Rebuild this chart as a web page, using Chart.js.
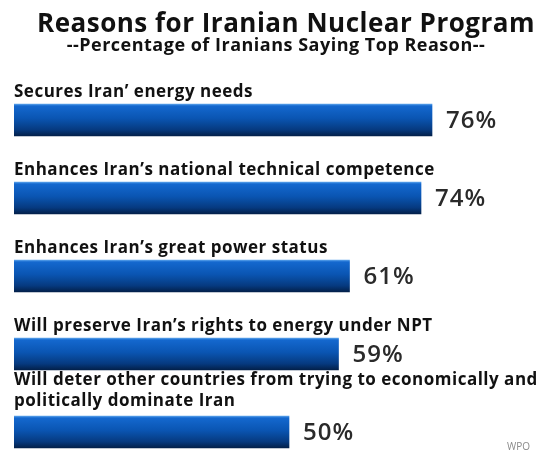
<!DOCTYPE html>
<html>
<head>
<meta charset="utf-8">
<script src="https://cdn.jsdelivr.net/npm/chart.js@4/dist/chart.umd.min.js"></script>
<style>
  html, body { margin: 0; padding: 0; background: #fff; overflow: hidden; width: 536px; height: 453px; }
  #wrap { position: relative; width: 580px; height: 480px; }
</style>
</head>
<body>
<div id="wrap"><canvas id="reasons"></canvas></div>
<script>
const titleText = "Reasons for Iranian Nuclear Program";
const subtitleText = "--Percentage of Iranians Saying Top Reason--";
const categories = [
  ["Secures Iran\u2019 energy needs"],
  ["Enhances Iran\u2019s national technical competence"],
  ["Enhances Iran\u2019s great power status"],
  ["Will preserve Iran\u2019s rights to energy under NPT"],
  ["Will deter other countries from trying to economically and", "politically dominate Iran"]
];
const percents = [76, 74, 61, 59, 50];
const sourceText = "WPO";

const FONT = "'Open Sans', Lato, sans-serif";

// header text, category labels above the bars, value labels right of bars
const textPlugin = {
  id: 'barText',
  afterDatasetsDraw(chart) {
    const ctx = chart.ctx;
    const area = chart.chartArea;
    ctx.save();
    ctx.fillStyle = '#111';
    ctx.textAlign = 'center';
    ctx.textBaseline = 'alphabetic';
    ctx.letterSpacing = '0.5px';
    ctx.font = "bold 26px " + FONT;
    ctx.fillText(titleText, area.left + 272, 32);
    ctx.font = "bold 18px " + FONT;
    ctx.fillText(subtitleText, area.left + 262, 51);

    const meta = chart.getDatasetMeta(0);
    meta.data.forEach((bar, i) => {
      const p = bar.getProps(['x', 'y', 'height'], true);
      const top = p.y - p.height / 2;
      const lines = categories[i];
      ctx.textAlign = 'left';
      ctx.textBaseline = 'alphabetic';
      ctx.fillStyle = '#111';
      ctx.letterSpacing = '0.5px';
      ctx.font = "bold 17px " + FONT;
      lines.forEach((line, j) => {
        const fromBottom = lines.length - 1 - j;
        const gap = lines.length > 1 ? 10 : 7;
        ctx.fillText(line, area.left, top - gap - fromBottom * 21);
      });
      ctx.fillStyle = '#2a2a2a';
      ctx.letterSpacing = '1px';
      ctx.font = "600 24px " + FONT;
      ctx.textBaseline = 'middle';
      ctx.fillText(percents[i] + '%', p.x + 14, p.y + 1);
    });

    ctx.letterSpacing = '0px';
    ctx.fillStyle = '#8a8a8a';
    ctx.font = "10px " + FONT;
    ctx.textAlign = 'left';
    ctx.textBaseline = 'alphabetic';
    ctx.fillText(sourceText, 507, 450);
    ctx.restore();
  }
};

function barGradient(c) {
  const chart = c.chart;
  const yScale = chart.scales.y;
  if (!yScale || c.dataIndex === undefined) return '#0a52ad';
  const mid = yScale.getPixelForValue(c.dataIndex);
  if (!isFinite(mid)) return '#0a52ad';
  const g = chart.ctx.createLinearGradient(0, mid - 16, 0, mid + 16);
  g.addColorStop(0, '#5aa2ea');
  g.addColorStop(0.06, '#1468cf');
  g.addColorStop(0.45, '#0a55b2');
  g.addColorStop(0.8, '#063a80');
  g.addColorStop(1, '#03204a');
  return g;
}

new Chart(document.getElementById("reasons"), {
  type: 'bar',
  data: {
    labels: categories,
    datasets: [
      {
        label: "Percent",
        data: percents,
        backgroundColor: barGradient,
        borderWidth: 0,
        barThickness: 32
      }
    ]
  },
  options: {
    indexAxis: 'y',
    responsive: true,
    maintainAspectRatio: false,
    animation: false,
    layout: { padding: { left: 14, right: 16, top: 81, bottom: 9 } },
    scales: {
      x: { min: 0, max: 100, display: false },
      y: { display: false, offset: true }
    },
    plugins: {
      legend: { display: false },
      title: { display: false },
      tooltip: { enabled: false }
    }
  },
  plugins: [textPlugin]
});
</script>
</body>
</html>
